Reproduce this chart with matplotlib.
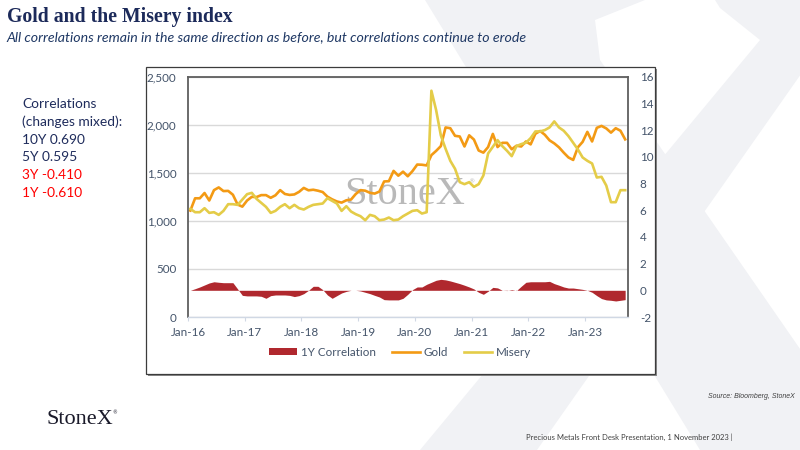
import matplotlib.pyplot as plt
import numpy as np
from matplotlib.lines import Line2D
from matplotlib.patches import Patch, Polygon, Rectangle

W, H = 800, 450


def fx(px):
    return px / W


def fy(py):
    return 1 - py / H


# monthly data, Jan-16 .. Sep-23
gold = [1107, 1235, 1235, 1290, 1212, 1320, 1348, 1310, 1312, 1272, 1170, 1148,
        1212, 1250, 1248, 1268, 1268, 1240, 1266, 1320, 1280, 1270, 1275, 1302,
        1343, 1318, 1324, 1314, 1300, 1252, 1224, 1202, 1190, 1214, 1222, 1280,
        1320, 1314, 1292, 1284, 1305, 1410, 1413, 1520, 1470, 1512, 1464, 1518,
        1586, 1584, 1577, 1684, 1728, 1778, 1972, 1964, 1885, 1878, 1774, 1890,
        1846, 1732, 1710, 1768, 1905, 1768, 1812, 1812, 1745, 1782, 1774, 1826,
        1796, 1906, 1935, 1896, 1838, 1806, 1765, 1710, 1660, 1634, 1766, 1822,
        1926, 1826, 1968, 1988, 1962, 1918, 1964, 1938, 1848]
misery = [6.1, 5.85, 5.85, 6.15, 5.8, 5.85, 5.65, 5.95, 6.45, 6.45, 6.4, 6.8,
          7.2, 7.3, 6.85, 6.55, 6.25, 5.8, 5.95, 6.25, 6.45, 6.15, 6.4, 6.15,
          6.05, 6.25, 6.4, 6.45, 6.5, 6.9, 6.7, 6.5, 5.95, 6.3, 5.9, 5.7,
          5.55, 5.25, 5.65, 5.55, 5.25, 5.3, 5.45, 5.25, 5.3, 5.55, 5.75, 5.95,
          6.0, 5.75, 5.85, 14.95, 13.5, 11.6, 10.6, 9.7, 9.1, 8.1, 7.95, 8.1,
          7.75, 7.95, 8.6, 10.25, 10.75, 11.25, 10.8, 10.45, 10.05, 10.8, 10.95, 11.05,
          11.4, 11.9, 11.9, 12.0, 12.2, 12.65, 12.2, 11.95, 11.55, 11.05, 10.55, 9.95,
          9.7, 9.5, 8.45, 8.5, 7.85, 6.6, 6.6, 7.5, 7.5]
corr_1y = [0.0, 0.12, 0.25, 0.4, 0.55, 0.64, 0.6, 0.57, 0.57, 0.57, 0.1, -0.38,
           -0.42, -0.42, -0.42, -0.45, -0.6, -0.4, -0.35, -0.35, -0.35, -0.38, -0.47, -0.4,
           -0.25, 0.0, 0.3, 0.3, 0.05, -0.35, -0.6, -0.4, -0.2, -0.08, 0.0, 0.0,
           -0.05, -0.15, -0.25, -0.38, -0.5, -0.7, -0.72, -0.72, -0.72, -0.6, -0.3, 0.05,
           0.25, 0.25, 0.45, 0.6, 0.75, 0.82, 0.78, 0.7, 0.6, 0.5, 0.38, 0.25,
           0.1, -0.15, -0.3, -0.07, 0.22, 0.18, 0.0, -0.02, 0.05, -0.02, 0.3, 0.6,
           0.64, 0.64, 0.64, 0.64, 0.67, 0.5, 0.38, 0.25, 0.17, 0.17, 0.12, 0.07,
           0.0, -0.15, -0.4, -0.62, -0.72, -0.75, -0.8, -0.75, -0.7]
year_labels = ['Jan-16', 'Jan-17', 'Jan-18', 'Jan-19', 'Jan-20', 'Jan-21', 'Jan-22', 'Jan-23']
corr_text = ['Correlations', '(changes mixed):', '10Y 0.690', '5Y 0.595', '3Y -0.410', '1Y -0.610']
corr_text_colors = ['#1f2c5c'] * 4 + ['#ff0000'] * 2

GOLD_C = '#f39a14'
MISERY_C = '#e4cc48'
CORR_C = '#b0282e'
TICK_C = '#44546a'
NAVY = '#1c2a5a'
WM = '#f1f2f5'

fig = plt.figure(figsize=(8, 4.5), dpi=100)
fig.patch.set_facecolor('white')

# big X watermark in the background
def px_poly(pts, **kw):
    return Polygon([(fx(a), fy(b)) for a, b in pts], closed=True,
                   transform=fig.transFigure, **kw)

fig.patches.append(px_poly([(425, 0), (645, 0), (595, 20), (600, 60), (870, 450), (700, 450)],
                           facecolor=WM, edgecolor='none', zorder=-3))
fig.patches.append(px_poly([(715, 0), (853, 0), (537, 450), (420, 450), (760, 40), (720, 8)],
                           facecolor=WM, edgecolor='none', zorder=-3))

# chart box with a small shadow
fig.patches.append(Rectangle((fx(147.5), fy(375.5)), fx(655) - fx(146), fy(67) - fy(374),
                             transform=fig.transFigure, facecolor='#8a8a8a',
                             edgecolor='none', zorder=-2))
fig.patches.append(Rectangle((fx(146), fy(374)), fx(655) - fx(146), fy(67) - fy(374),
                             transform=fig.transFigure, facecolor='white',
                             edgecolor='#3c3c3c', lw=0.9, zorder=-1))

ax = fig.add_axes([fx(188), fy(317), fx(628) - fx(188), fy(76.7) - fy(317)])
ax2 = ax.twinx()

x = np.arange(len(gold)) + 0.5

ax2.fill_between(x, 0, corr_1y, color=CORR_C, lw=0, zorder=2)
ax.plot(x, gold, color=GOLD_C, lw=1.9, zorder=3, solid_joinstyle='round')
ax2.plot(x, misery, color=MISERY_C, lw=1.9, zorder=3, solid_joinstyle='round')

ax.set_xlim(0, 93.1)
ax.set_ylim(0, 2500)
ax2.set_ylim(-2, 16)

ax.set_yticks(range(0, 2501, 500))
ax.set_yticklabels([f'{v:,}' for v in range(0, 2501, 500)])
ax2.set_yticks(range(-2, 17, 2))
ax2.set_yticklabels([str(v) for v in range(-2, 17, 2)])
ax.set_xticks(range(0, 85, 12))
ax.set_xticklabels(year_labels)

ax.yaxis.grid(True, color='#d9d9d9', lw=1.0)
ax.set_axisbelow(True)

for s in ['left', 'top', 'right']:
    ax.spines[s].set_color('#5f5f5f')
    ax.spines[s].set_linewidth(1.3)
ax.spines['bottom'].set_color('#d0d8e4')
ax.spines['bottom'].set_linewidth(1.0)
for s in ax2.spines.values():
    s.set_visible(False)

ax.tick_params(axis='y', length=0, pad=8.5, labelsize=8.4, labelcolor=TICK_C)
ax.tick_params(axis='x', length=3, color='#d0d8e4', pad=4, labelsize=8.4, labelcolor=TICK_C)
ax2.tick_params(axis='y', length=0, pad=8.5, labelsize=8.4, labelcolor=TICK_C)
for lab in ax.get_xticklabels() + ax.get_yticklabels() + ax2.get_yticklabels():
    lab.set_family('Lato')

# faint logo inside the plot
ax.text(fx(405), fy(195), 'StoneX', transform=fig.transFigure, ha='center', va='center',
        family='Liberation Serif', fontsize=29, color='#b9b9b9', zorder=1)
ax.text(fx(468), fy(182), '®', transform=fig.transFigure, ha='left', va='center',
        fontsize=4.5, color='#b9b9b9', zorder=1)

handles = [Patch(facecolor=CORR_C, edgecolor='none'),
           Line2D([], [], color=GOLD_C, lw=1.9),
           Line2D([], [], color=MISERY_C, lw=1.9)]
fig.legend(handles, ['1Y Correlation', 'Gold', 'Misery'], loc='center',
           bbox_to_anchor=(0.5, fy(352)), ncol=3, frameon=False,
           prop={'family': 'Lato', 'size': 8.4}, labelcolor=TICK_C,
           handlelength=2.4, handleheight=0.6, handletextpad=0.3, columnspacing=1.4)

# titles and side notes
fig.text(fx(7), fy(17), 'Gold and the Misery index', family='Liberation Serif',
         weight='bold', fontsize=14.2, color=NAVY, va='center')
fig.text(fx(6), fy(37), 'All correlations remain in the same direction as before, '
         'but correlations continue to erode', family='Lato', style='italic',
         fontsize=10.2, color='#1f3864', va='center')

for i, (t, c) in enumerate(zip(corr_text, corr_text_colors)):
    fig.text(fx(22), fy(104 + i * 17.8), t, family='Lato', fontsize=9.9, color=c, va='center')

fig.text(fx(795), fy(397), 'Source: Bloomberg, StoneX', family='Liberation Sans',
         style='italic', fontsize=5, color='#404040', ha='right', va='center')
fig.text(fx(733), fy(437), 'Precious Metals Front Desk Presentation, 1 November 2023 |',
         family='Lato', fontsize=5.5, color='#404040', ha='right', va='center')
fig.text(fx(47), fy(420), 'StoneX', family='Liberation Serif', fontsize=16,
         color='#1a1a2a', va='center')
fig.text(fx(112.5), fy(413), '®', fontsize=3.5, color='#1a1a2a', ha='left', va='center')

fig.savefig('out.png', dpi=100)
